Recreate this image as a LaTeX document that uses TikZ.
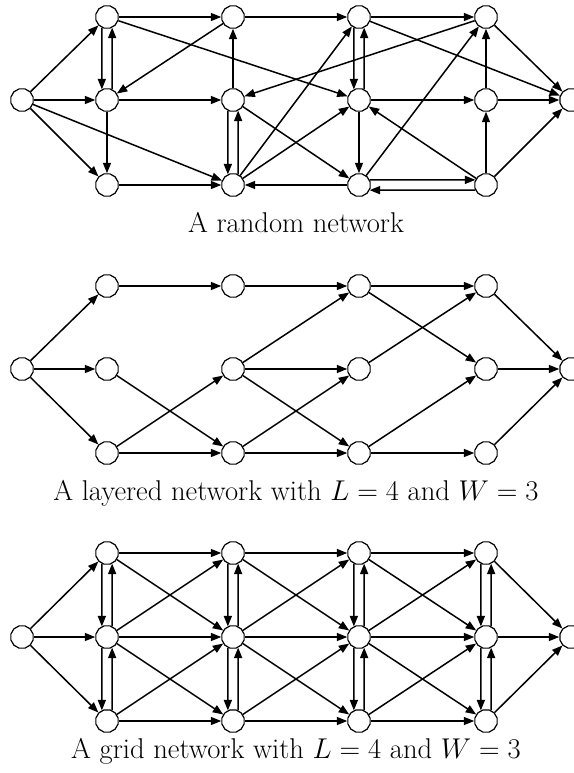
\RequirePackage{fix-cm}
\documentclass[tikz,border=0pt]{standalone}
\usetikzlibrary{arrows.meta,shapes.geometric}
\begin{document}
\begin{tikzpicture}[x=1pt,y=-1pt,
  vertex/.style={draw,line width=1.2pt,fill=white,regular polygon,
    regular polygon sides=12,minimum size=23pt,inner sep=0pt},
  edge/.style={line width=1.5pt,-{Triangle[length=10.5pt,width=8pt]}},
  caption/.style={anchor=base,inner sep=0pt,font=\fontsize{28.6}{34}\selectfont}]

\useasboundingbox (0,0) rectangle (573,773);

% vertices of the three networks: prefix r (random), l (layered), g (grid)
\foreach \p/\ya/\yb/\yc in {r/17/100/185, l/286/369/453, g/553/637/721} {
  \node[vertex] (\p s) at (22,\yb) {};
  \node[vertex] (\p t) at (571,\yb) {};
  \foreach \c/\x in {a/107,b/233,c/359,d/486} {
    \node[vertex] (\p\c1) at (\x,\ya) {};
    \node[vertex] (\p\c2) at (\x,\yb) {};
    \node[vertex] (\p\c3) at (\x,\yc) {};
  }
}

% ---- random network ----
\foreach \u/\v in {rs/ra1, rs/ra2, rs/ra3, rs/rb3, ra1/rb1, ra1/rc2, ra2/rb2,
    ra2/ra3, ra3/rb3, rb1/ra2, rb1/rc1, rb2/rb1, rb2/rc3, rb3/rc1, rb3/rc2,
    rc1/rd1, rc1/rt, rc2/rd2, rc2/rc3, rc3/rb3, rc3/rd1, rd1/rb2, rd1/rt,
    rd2/rd1, rd2/rt, rd3/rd2, rd3/rc2, rd3/rt}
  \draw[edge] (\u) -- (\v);
% vertical pairs (upper/lower): down on the left, up on the right
\foreach \u/\v in {ra1/ra2, rb2/rb3, rc1/rc2}{
  \draw[edge] (\u.-116) -- (\v.116);
  \draw[edge] (\v.64) -- (\u.-64);
}
% horizontal pair: right on top, left below
\draw[edge] (rc3.26) -- (rd3.154);
\draw[edge] (rd3.-154) -- (rc3.-26);

% ---- layered network ----
\foreach \u/\v in {ls/la1, ls/la2, ls/la3, la1/lb1, la2/lb3, la3/lb2, la3/lb3,
    lb1/lc1, lb2/lc1, lb2/lc2, lb2/lc3, lb3/lc2, lb3/lc3,
    lc1/ld1, lc1/ld2, lc2/ld1, lc3/ld2, lc3/ld3, ld1/lt, ld2/lt, ld3/lt}
  \draw[edge] (\u) -- (\v);

% ---- grid network ----
\foreach \u/\v in {gs/ga1, gs/ga2, gs/ga3, gd1/gt, gd2/gt, gd3/gt}
  \draw[edge] (\u) -- (\v);
\foreach \X/\Y in {a/b, b/c, c/d}{
  \foreach \i/\j in {1/1, 1/2, 2/1, 2/2, 2/3, 3/2, 3/3}
    \draw[edge] (g\X\i) -- (g\Y\j);
}
\foreach \X in {a,b,c,d}{
  \foreach \i/\j in {1/2, 2/3}{
    \draw[edge] (g\X\i.-116) -- (g\X\j.116);
    \draw[edge] (g\X\j.64) -- (g\X\i.-64);
  }
}

% captions
\node[caption] (cap1) at (296,232) {A random network};
\node[caption] (cap2) at (296,500) {A layered network with $L=4$ and $W=3$};
\node[caption] (cap3) at (296,758) {A grid network with $L=4$ and $W=3$};
\end{tikzpicture}
\end{document}
